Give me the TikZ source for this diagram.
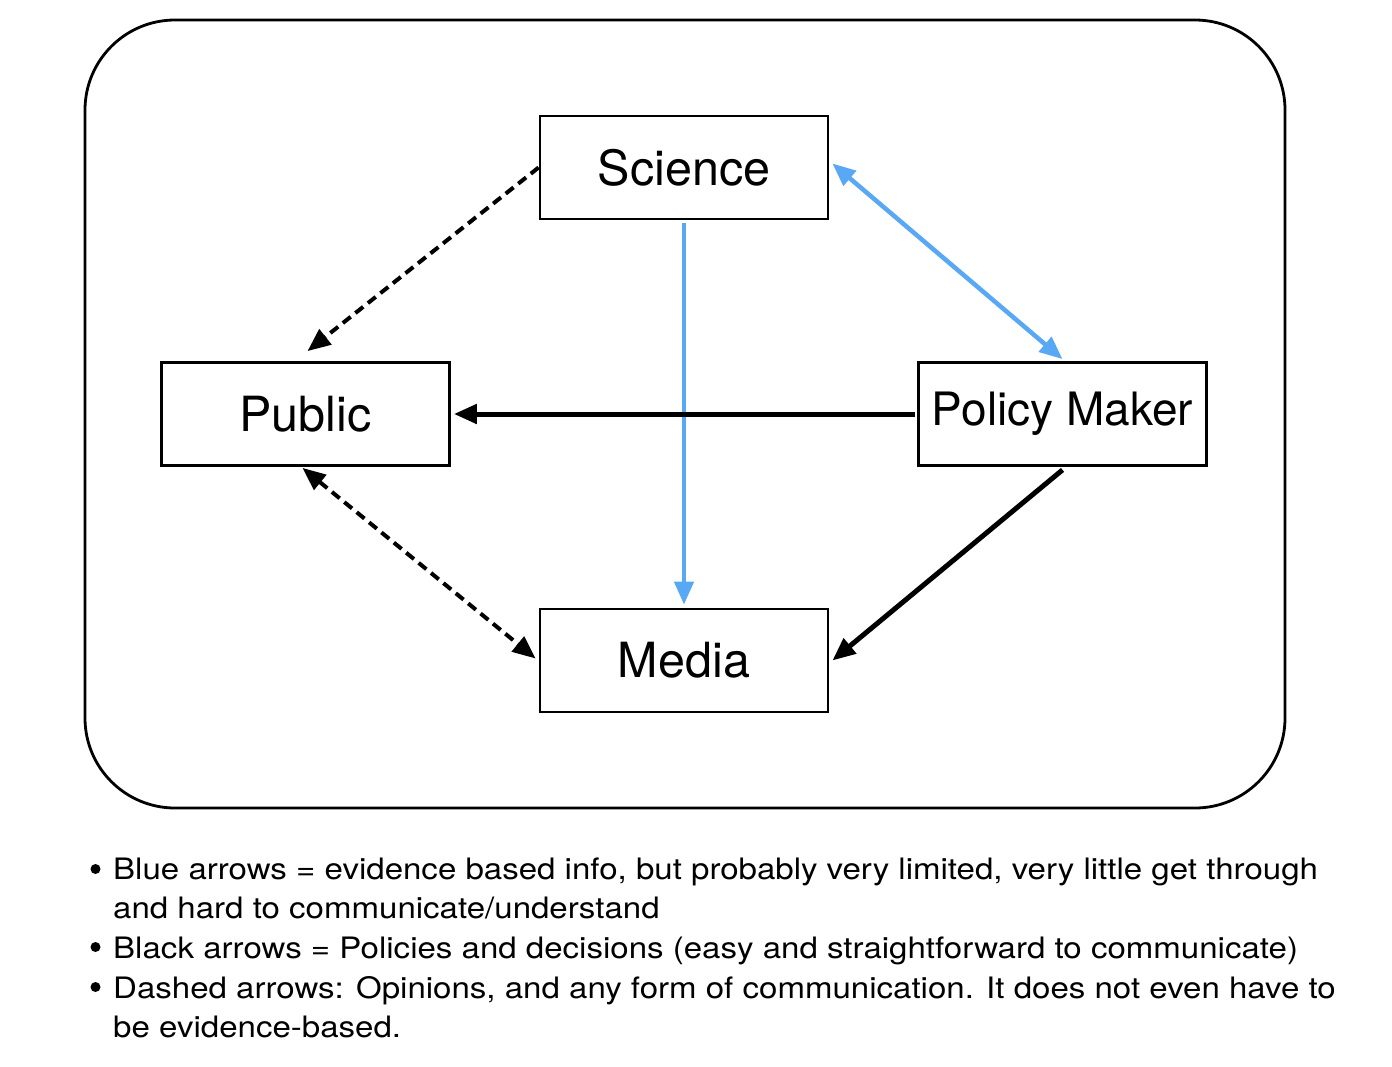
\documentclass[tikz,border=0pt]{standalone}
\usepackage{fontspec}
\setmainfont{TeX Gyre Heros}
\newfontfamily\legendfont[FakeStretch=1.12]{TeX Gyre Heros}
\usetikzlibrary{arrows.meta,calc}
\definecolor{arrowblue}{RGB}{88,168,245}
\begin{document}
\begin{tikzpicture}[x=1pt,y=-1pt,
  box/.style={draw,line width=2.8pt,minimum width=288pt,minimum height=103pt,inner sep=0pt,font=\fontsize{48.5}{52}\selectfont},
  tip/.style={-{Triangle[length=23pt,width=19pt]}},
  bitip/.style={{Triangle[length=23pt,width=19pt]}-{Triangle[length=23pt,width=19pt]}},
  dashedarrow/.style={line width=4pt,dash pattern=on 10pt off 6pt},
  bluearrow/.style={line width=4.5pt,draw=arrowblue,fill=arrowblue},
  blackarrow/.style={line width=5pt},
  legend/.style={anchor=base west,inner sep=0pt,font=\legendfont\fontsize{29.5}{35}\selectfont},
  bullet/.style={circle,fill=black,inner sep=0pt,minimum size=10pt}
]
\useasboundingbox (0,0) rectangle (1392,1066);
\draw[line width=2.8pt,rounded corners=90pt] (85,20) rectangle (1285,808);

\node[box] (Science) at (684,167.5) {Science};
\node[box] (Public) at (305.5,414) {Public};
\node[box,font=\fontsize{46}{50}\selectfont] (Policy) at (1062.5,414) {Policy Maker};
\node[box] (Media) at (684,660.5) {Media};

\draw[dashedarrow,tip] (Science.west) -- ($(Public.north)+(2,-10)$);
\draw[dashedarrow,bitip] ($(Public.south)+(-3,1)$) -- ($(Media.west)+(-3,-2)$);
\draw[bluearrow,bitip] ($(Science.east)+(3,-4)$) -- ($(Policy.north)+(0,-2)$);
\draw[bluearrow,tip] ($(Science.south)+(0,3)$) -- ($(Media.north)+(0,-3)$);
\draw[blackarrow,tip] ($(Policy.west)+(-2,0)$) -- ($(Public.east)+(3,0)$);
\draw[blackarrow,tip] ($(Policy.south)+(0,3)$) -- ($(Media.east)+(3,0)$);

\node[bullet] (b1) at (95.5,869) {};
\node[legend] (l1) at (113,879) {Blue arrows = evidence based info, but probably very limited, very little get through};
\node[legend] (l2) at (113,918) {and hard to communicate/understand};
\node[bullet] (b2) at (95.5,947) {};
\node[legend] (l3) at (113,958) {Black arrows = Policies and decisions (easy and straightforward to communicate)};
\node[bullet] (b3) at (95.5,987) {};
\node[legend] (l4) at (113,998) {Dashed arrows: Opinions, and any form of communication. It does not even have to};
\node[legend] (l5) at (113,1037) {be evidence-based.};
\end{tikzpicture}
\end{document}
